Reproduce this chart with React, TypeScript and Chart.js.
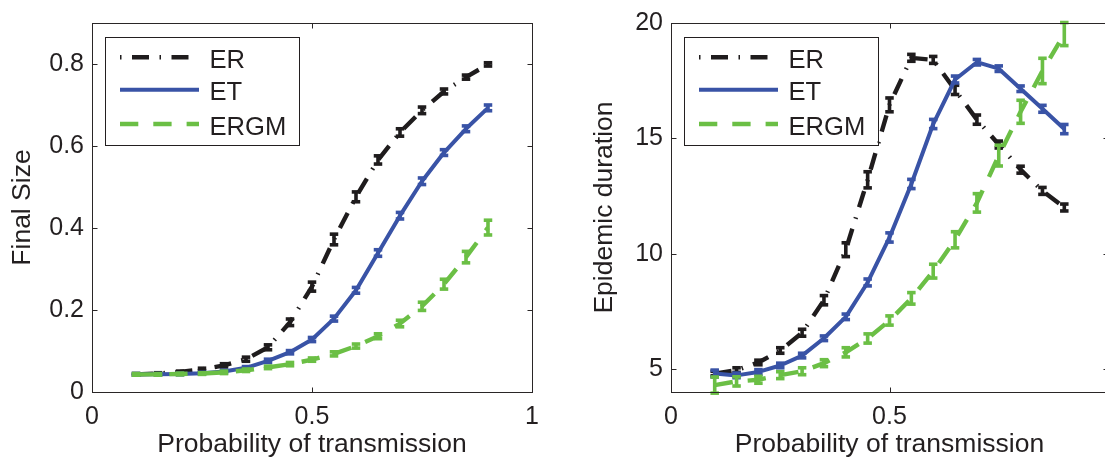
import React, { useEffect, useRef } from "react";
import { Chart, registerables } from "chart.js";

Chart.register(...registerables);

const FONT = '"Liberation Sans", Arial, Helvetica, sans-serif';
const TEXT = "#231f20";

// ---------- data ----------
const probabilities = [0.1, 0.15, 0.2, 0.25, 0.3, 0.35, 0.4, 0.45, 0.5, 0.55, 0.6, 0.65, 0.7, 0.75, 0.8, 0.85, 0.9];
const seriesNames = ["ER", "ET", "ERGM"];

const finalSizeER = [0.043, 0.045, 0.049, 0.055, 0.065, 0.08, 0.109, 0.17, 0.257, 0.372, 0.476, 0.566, 0.633, 0.687, 0.733, 0.768, 0.799];
const finalSizeET = [0.043, 0.043, 0.044, 0.046, 0.05, 0.059, 0.076, 0.097, 0.128, 0.179, 0.248, 0.339, 0.43, 0.514, 0.584, 0.642, 0.693];
const finalSizeERGM = [0.043, 0.043, 0.044, 0.045, 0.048, 0.053, 0.06, 0.068, 0.079, 0.093, 0.112, 0.136, 0.167, 0.209, 0.263, 0.329, 0.401];

const finalSizeErrER = [0.002, 0.002, 0.002, 0.003, 0.004, 0.005, 0.006, 0.008, 0.011, 0.013, 0.012, 0.01, 0.009, 0.008, 0.006, 0.005, 0.004];
const finalSizeErrET = [0.002, 0.002, 0.002, 0.002, 0.003, 0.003, 0.004, 0.004, 0.005, 0.006, 0.007, 0.008, 0.008, 0.008, 0.007, 0.007, 0.007];
const finalSizeErrERGM = [0.002, 0.002, 0.002, 0.002, 0.003, 0.003, 0.003, 0.004, 0.004, 0.005, 0.005, 0.006, 0.008, 0.01, 0.012, 0.014, 0.018];

const durationER = [4.8, 4.95, 5.28, 5.8, 6.57, 7.98, 10.17, 13.2, 16.45, 18.49, 18.4, 17.1, 15.81, 14.73, 13.64, 12.72, 12.0];
const durationET = [4.8, 4.72, 4.87, 5.15, 5.58, 6.33, 7.26, 8.75, 10.7, 13.02, 15.62, 17.55, 18.3, 18.02, 17.15, 16.28, 15.4];
const durationERGM = [4.3, 4.46, 4.53, 4.73, 4.9, 5.25, 5.72, 6.32, 7.1, 8.06, 9.24, 10.6, 12.2, 14.25, 16.15, 17.92, 19.52];

const durationErrER = [0.1, 0.1, 0.1, 0.12, 0.15, 0.2, 0.3, 0.35, 0.3, 0.15, 0.15, 0.2, 0.2, 0.15, 0.15, 0.15, 0.15];
const durationErrET = [0.15, 0.1, 0.1, 0.1, 0.1, 0.1, 0.12, 0.15, 0.2, 0.2, 0.2, 0.15, 0.12, 0.12, 0.12, 0.15, 0.2];
const durationErrERGM = [0.35, 0.2, 0.15, 0.15, 0.15, 0.15, 0.2, 0.2, 0.2, 0.25, 0.3, 0.35, 0.4, 0.45, 0.5, 0.55, 0.5];

const leftXTicks = [0, 0.5, 1];
const leftYTicks = [0, 0.2, 0.4, 0.6, 0.8];
const rightXTicks = [0, 0.5];
const rightYTicks = [5, 10, 15, 20];

const xTitle = "Probability of transmission";
const leftYTitle = "Final Size";
const rightYTitle = "Epidemic duration";

// ---------- styles ----------
const seriesStyles = [
  { color: "#1f1c1d", dash: [17, 10.5, 1.5, 10.5], width: 4.4 },
  { color: "#3953a6", dash: [] as number[], width: 4 },
  { color: "#6bbf45", dash: [18.3, 15], width: 4.4 },
];

// ---------- plugins ----------
const errorBarPlugin = {
  id: "errorBars",
  afterDatasetDraw(chart: any, args: any) {
    const ds = chart.data.datasets[args.index];
    const errs: number[] = ds.errors || [];
    const { ctx, scales } = chart;
    const ys = scales.y;
    const xs = scales.x;
    ctx.save();
    ctx.fillStyle = ds.borderColor;
    ds.data.forEach((pt: any, j: number) => {
      const px = xs.getPixelForValue(pt.x);
      const pTop = ys.getPixelForValue(pt.y + (errs[j] || 0));
      const pBot = ys.getPixelForValue(pt.y - (errs[j] || 0));
      const capW = 8.5;
      const capH = 3.6;
      const stem = 3.6;
      ctx.fillRect(px - stem / 2, pTop, stem, pBot - pTop);
      ctx.fillRect(px - capW / 2, pTop - capH / 2, capW, capH);
      ctx.fillRect(px - capW / 2, pBot - capH / 2, capW, capH);
    });
    ctx.restore();
  },
};

const framePlugin = {
  id: "frameTicks",
  afterDraw(chart: any) {
    const { ctx, chartArea, scales } = chart;
    const { left, right, top, bottom } = chartArea;
    ctx.save();
    ctx.strokeStyle = "#2a2627";
    ctx.lineWidth = 1;
    const L = Math.round(left) + 0.5;
    const R = Math.round(right) + 0.5;
    const T = Math.round(top) + 0.5;
    const B = Math.round(bottom) + 0.5;
    ctx.strokeRect(L, T, R - L, B - T);
    const tl = 5;
    ctx.beginPath();
    scales.x.ticks.forEach((t: any) => {
      const px = Math.round(scales.x.getPixelForValue(t.value)) + 0.5;
      ctx.moveTo(px, B);
      ctx.lineTo(px, B - tl);
      ctx.moveTo(px, T);
      ctx.lineTo(px, T + tl);
    });
    scales.y.ticks.forEach((t: any) => {
      const py = Math.round(scales.y.getPixelForValue(t.value)) + 0.5;
      ctx.moveTo(L, py);
      ctx.lineTo(L + tl, py);
      ctx.moveTo(R, py);
      ctx.lineTo(R - tl, py);
    });
    ctx.stroke();
    ctx.restore();
  },
};

const boxLegendPlugin = {
  id: "boxLegend",
  afterDraw(chart: any) {
    const { ctx, chartArea } = chart;
    const bx = chartArea.left + 12.5;
    const by = chartArea.top + 13.5;
    const bw = 194;
    const bh = 108;
    ctx.save();
    ctx.fillStyle = "#ffffff";
    ctx.fillRect(bx, by, bw, bh);
    ctx.strokeStyle = "#231f20";
    ctx.lineWidth = 1;
    ctx.strokeRect(Math.round(bx) + 0.5, Math.round(by) + 0.5, bw, bh);
    const rowOffsets = [34.3, 66.7, 101];
    chart.data.datasets.forEach((ds: any, i: number) => {
      const y = chartArea.top + rowOffsets[i];
      const x0 = chartArea.left + 28;
      const x1 = chartArea.left + 107;
      ctx.beginPath();
      ctx.strokeStyle = ds.borderColor;
      ctx.lineWidth = ds.borderWidth;
      ctx.lineCap = "butt";
      const dash = ds.borderDash || [];
      ctx.setLineDash(dash);
      ctx.lineDashOffset = dash.length === 4 ? dash[0] + dash[1] : 0;
      ctx.moveTo(x0, y);
      ctx.lineTo(x1, y);
      ctx.stroke();
      ctx.setLineDash([]);
      ctx.fillStyle = TEXT;
      ctx.font = `25.6px ${FONT}`;
      ctx.textAlign = "left";
      ctx.textBaseline = "alphabetic";
      ctx.fillText(ds.label, chartArea.left + 117.5, y + 10.5);
    });
    ctx.restore();
  },
};

// ---------- config ----------
function buildConfig(p: {
  values: number[][];
  errors: number[][];
  yMin: number;
  yMax: number;
  xTicks: number[];
  yTicks: number[];
  yTitle: string;
  yTitlePad: number;
  yAxisWidth: number;
  rightPad: number;
}): any {
  const tickFont = { family: FONT, size: 25 };
  const titleFont = { family: FONT, size: 26.5 };
  return {
    type: "line",
    data: {
      datasets: seriesNames.map((name, i) => ({
        label: name,
        data: probabilities.map((x, j) => ({ x, y: p.values[i][j] })),
        errors: p.errors[i],
        borderColor: seriesStyles[i].color,
        backgroundColor: seriesStyles[i].color,
        borderWidth: seriesStyles[i].width,
        borderDash: seriesStyles[i].dash,
        borderCapStyle: "butt",
        borderJoinStyle: "round",
        pointRadius: 0,
        pointHoverRadius: 0,
        tension: 0,
        fill: false,
        order: 2 - i,
      })),
    },
    options: {
      responsive: false,
      animation: false,
      devicePixelRatio: 1,
      events: [],
      layout: { padding: { left: 0, right: p.rightPad, top: 15, bottom: 0 } },
      plugins: { legend: { display: false }, tooltip: { enabled: false } },
      scales: {
        x: {
          type: "linear",
          min: 0,
          max: 1,
          afterBuildTicks: (s: any) => {
            s.ticks = p.xTicks.map((v) => ({ value: v }));
          },
          afterFit: (s: any) => {
            s.height = 69;
          },
          grid: { display: false, drawTicks: false },
          border: { display: false },
          ticks: {
            padding: 10,
            color: TEXT,
            font: tickFont,
            maxRotation: 0,
            autoSkip: false,
            callback: (v: any) => String(v),
          },
          title: {
            display: true,
            text: xTitle,
            color: TEXT,
            font: titleFont,
            padding: { top: 0, bottom: 0 },
          },
        },
        y: {
          type: "linear",
          min: p.yMin,
          max: p.yMax,
          afterBuildTicks: (s: any) => {
            s.ticks = p.yTicks.map((v) => ({ value: v }));
          },
          afterFit: (s: any) => {
            s.width = p.yAxisWidth;
          },
          grid: { display: false, drawTicks: false },
          border: { display: false },
          ticks: {
            padding: 8,
            color: TEXT,
            font: tickFont,
            autoSkip: false,
            callback: (v: any) => String(v),
          },
          title: {
            display: true,
            text: p.yTitle,
            color: TEXT,
            font: titleFont,
            padding: { top: p.yTitlePad, bottom: 0 },
          },
        },
      },
    },
    plugins: [errorBarPlugin, framePlugin, boxLegendPlugin],
  };
}

function ChartCanvas(props: { config: () => any; width: number; height: number; left: number }) {
  const ref = useRef<HTMLCanvasElement | null>(null);
  useEffect(() => {
    if (!ref.current) return;
    const chart = new Chart(ref.current, props.config());
    return () => chart.destroy();
  }, []);
  return (
    <canvas
      ref={ref}
      width={props.width}
      height={props.height}
      style={{ position: "absolute", left: props.left, top: 0, width: props.width, height: props.height, display: "block" }}
    />
  );
}

export default function App() {
  const leftConfig = () =>
    buildConfig({
      values: [finalSizeER, finalSizeET, finalSizeERGM],
      errors: [finalSizeErrER, finalSizeErrET, finalSizeErrERGM],
      yMin: 0,
      yMax: 0.9,
      xTicks: leftXTicks,
      yTicks: leftYTicks,
      yTitle: leftYTitle,
      yTitlePad: 7,
      yAxisWidth: 92,
      rightPad: 28,
    });
  const rightConfig = () =>
    buildConfig({
      values: [durationER, durationET, durationERGM],
      errors: [durationErrER, durationErrET, durationErrERGM],
      yMin: 4,
      yMax: 20,
      xTicks: rightXTicks,
      yTicks: rightYTicks,
      yTitle: rightYTitle,
      yTitlePad: 28.6,
      yAxisWidth: 111,
      rightPad: 52,
    });
  return (
    <div
      style={{
        position: "fixed",
        left: 0,
        top: 0,
        width: 1105,
        height: 461,
        overflow: "hidden",
        background: "#ffffff",
      }}
    >
      <ChartCanvas config={leftConfig} width={560} height={461} left={0} />
      <ChartCanvas config={rightConfig} width={600} height={461} left={560} />
    </div>
  );
}
